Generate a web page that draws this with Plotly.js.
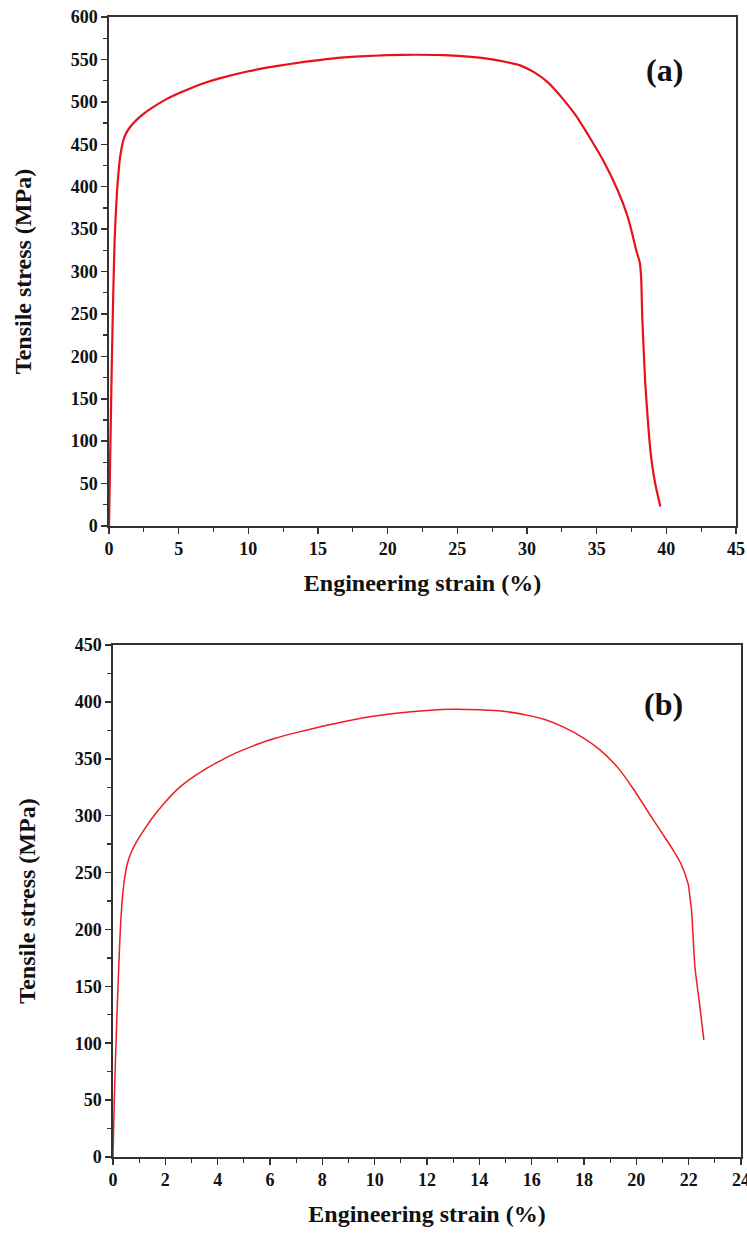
<!DOCTYPE html>
<html>
<head>
<meta charset="utf-8">
<script src="https://cdn.plot.ly/plotly-3.0.1.min.js"></script>
<style>html,body{margin:0;padding:0;background:#fff;}#chart{width:747px;height:1236px;}</style>
</head>
<body>
<div id="chart"></div>
<script>
// Panel (a)
const strainA = [0, 0.1, 0.2, 0.3, 0.4, 0.5, 0.6, 0.7, 0.8, 0.9, 1.0, 1.2, 1.5, 2.0, 2.5, 3, 4, 5, 6, 7, 8, 10, 12, 14, 16, 18, 20, 22, 24, 26, 27.5, 28.5, 29.5, 30.5, 31.5, 32.5, 33.5, 34.5, 35.5, 36.5, 37.2, 37.5, 37.84, 38.1, 38.2, 38.27, 38.38, 38.49, 38.65, 38.85, 39.0, 39.2, 39.57];
const stressA = [0, 95, 190, 270, 335, 372, 400, 420, 435, 445, 453, 462, 470, 479, 486, 492, 502, 510, 517, 523, 528, 536, 542, 547, 551, 553.5, 555, 555.5, 555, 553, 550, 547, 543, 535, 523, 505, 484, 458, 430, 396, 366, 348, 325, 310, 290, 247, 205, 168, 130, 90, 70, 50, 23];
// Panel (b)
const strainB = [0, 0.05, 0.1, 0.2, 0.28, 0.36, 0.45, 0.55, 0.7, 0.85, 1.0, 1.2, 1.5, 2.0, 2.5, 3.0, 3.5, 4.0, 4.5, 5.0, 5.6, 6.2, 7.0, 8.0, 9.0, 10.0, 11.0, 12.0, 13.0, 14.0, 15.0, 16.0, 16.5, 17.2, 18.0, 18.6, 19.3, 19.9, 20.6, 21.0, 21.4, 21.7, 21.98, 22.05, 22.11, 22.24, 22.43, 22.58];
const stressB = [0, 50, 90, 155, 200, 228, 246, 258, 268, 275, 281, 288, 298, 312, 324, 333, 340.5, 347, 353, 358, 363.5, 368, 373, 378.5, 383.5, 387.5, 390.5, 392.5, 393.5, 393, 391.5, 387.5, 384.5, 378, 368, 358, 342, 323, 298, 284, 270, 258, 240, 228, 217, 167, 132, 103];

const xTitle = "Engineering strain (%)";
const yTitle = "Tensile stress (MPa)";
const panelLabels = ["(a)", "(b)"];

const tickFont = {family: "Liberation Serif", size: 18, color: "#111", weight: "bold"};
const titleFont = {family: "Liberation Serif", size: 24, color: "#111", weight: "bold"};
const labelFont = {family: "Liberation Serif", size: 32, color: "#111", weight: "bold"};
const lineCol = "#333";

function axisBase(extra) {
  return Object.assign({
    showline: true, mirror: true, linecolor: lineCol, linewidth: 1.6,
    ticks: "outside", ticklen: 6, tickwidth: 1.5, tickcolor: lineCol,
    showgrid: false, zeroline: false, tickfont: tickFont,
    ticklabeloverflow: "allow", fixedrange: true
  }, extra);
}

const traces = [
  {x: strainA, y: stressA, type: "scatter", mode: "lines", line: {color: "#e8101a", width: 2.2, shape: "spline", smoothing: 0.6}, xaxis: "x", yaxis: "y", showlegend: false, hoverinfo: "skip"},
  {x: strainB, y: stressB, type: "scatter", mode: "lines", line: {color: "#ee1c24", width: 1.5, shape: "spline", smoothing: 0.6}, xaxis: "x2", yaxis: "y2", showlegend: false, hoverinfo: "skip"}
];

const layout = {
  width: 747, height: 1236,
  paper_bgcolor: "#fff", plot_bgcolor: "#fff",
  margin: {l: 0, r: 0, t: 0, b: 0},
  showlegend: false,
  xaxis: axisBase({domain: [109/747, 736/747], anchor: "y", range: [0, 45], dtick: 5, tick0: 0,
    minor: {ticks: "outside", ticklen: 4, tickwidth: 1.3, tickcolor: lineCol, dtick: 2.5, tick0: 0},
    title: {text: xTitle, font: titleFont, standoff: 16}}),
  yaxis: axisBase({domain: [1 - 526/1236, 1 - 17/1236], anchor: "x", range: [0, 600], dtick: 50, tick0: 0,
    minor: {ticks: "outside", ticklen: 4, tickwidth: 1.3, tickcolor: lineCol, dtick: 25, tick0: 0},
    title: {text: yTitle, font: titleFont, standoff: 32}}),
  xaxis2: axisBase({domain: [113/747, 741/747], anchor: "y2", range: [0, 24], dtick: 2, tick0: 0,
    minor: {ticks: "outside", ticklen: 4, tickwidth: 1.3, tickcolor: lineCol, dtick: 1, tick0: 0},
    title: {text: xTitle, font: titleFont, standoff: 16}}),
  yaxis2: axisBase({domain: [1 - 1157/1236, 1 - 645/1236], anchor: "x2", range: [0, 450], dtick: 50, tick0: 0,
    minor: {ticks: "outside", ticklen: 4, tickwidth: 1.3, tickcolor: lineCol, dtick: 25, tick0: 0},
    title: {text: yTitle, font: titleFont, standoff: 32}}),
  annotations: [
    {text: panelLabels[0], xref: "x domain", yref: "y domain", x: 0.886, y: 0.895, xanchor: "center", yanchor: "middle", showarrow: false, font: labelFont},
    {text: panelLabels[1], xref: "x2 domain", yref: "y2 domain", x: 0.876, y: 0.885, xanchor: "center", yanchor: "middle", showarrow: false, font: labelFont}
  ]
};

Plotly.newPlot("chart", traces, layout, {displayModeBar: false, staticPlot: true});
</script>
</body>
</html>
